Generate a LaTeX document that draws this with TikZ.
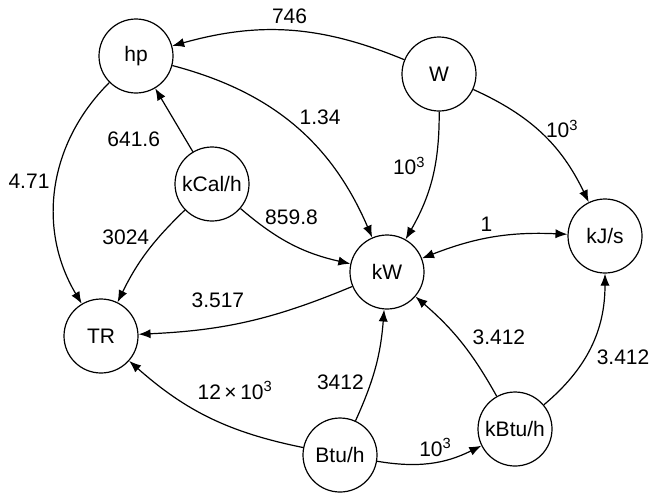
\documentclass[tikz,border=0pt]{standalone}
\usepackage{fontspec}
\setmainfont{Liberation Sans}
\usetikzlibrary{arrows.meta, positioning}

\begin{document}
\begin{tikzpicture}[
  x=0.5pt, y=0.5pt,
  font=\fontsize{10.5}{12}\selectfont,
  unit/.style={circle, draw=black, line width=0.6pt, minimum size=37pt, inner sep=0pt},
  conv/.style={-{Latex[length=6pt,width=4.6pt]}, line width=0.6pt},
  both/.style={{Latex[length=6pt,width=4.6pt]}-{Latex[length=6pt,width=4.6pt]}, line width=0.6pt}
]
\useasboundingbox (0,0) rectangle (651,495);

\node[unit] (hp)   at (136,439) {hp};
\node[unit] (W)    at (439,421) {W};
\node[unit] (kcal) at (212,311) {kCal/h};
\node[unit] (kW)   at (387,223) {kW};
\node[unit] (kJs)  at (605,259) {kJ/s};
\node[unit] (TR)   at (101,159) {TR};
\node[unit] (btu)  at (340,40)  {Btu/h};
\node[unit] (kbtu) at (515,66)  {kBtu/h};

\draw[conv] (W)    to[bend right=19] node[above=0pt]{746} (hp);
\draw[conv] (hp)   to[bend left=26]  node[pos=0.5, above right=-3pt and -1pt]{1.34} (kW);
\draw[conv] (kcal) -- node[pos=0.2, left=9pt]{641.6} (hp);
\draw[conv] (hp)   to[bend right=38] node[pos=0.47, left=0pt]{4.71} (TR);
\draw[conv] (kcal) to[bend right=10] node[pos=0.32, left=1pt]{3024} (TR);
\draw[conv] (kcal) to[bend right=14] node[pos=0.5, above=6pt]{859.8} (kW);
\draw[conv] (W)    to[bend left=15]  node[pos=0.4, left=1pt]{10\textsuperscript{3}} (kW);
\draw[conv] (W)    to[bend left=20]  node[pos=0.45, right=1pt]{10\textsuperscript{3}} (kJs);
\draw[both] (kW)   to[bend left=12]  node[pos=0.45, above=0pt]{1} (kJs);
\draw[conv] (kW)   to[bend left=10]  node[pos=0.65, above=6pt]{3.517} (TR);
\draw[conv] (btu)  to[bend left=15]  node[pos=0.62, above right=0pt and 0pt]{12\,×\,10\textsuperscript{3}} (TR);
\draw[conv] (btu)  to[bend right=10] node[pos=0.35, left=0pt]{3412} (kW);
\draw[conv] (kbtu) to[bend right=10] node[pos=0.55, right=4pt]{3.412} (kW);
\draw[conv] (kbtu) to[bend right=25] node[pos=0.42, right=2pt]{3.412} (kJs);
\draw[conv] (btu)  to[bend right=18] node[pos=0.55, above=-1pt]{10\textsuperscript{3}} (kbtu);

\end{tikzpicture}
\end{document}
